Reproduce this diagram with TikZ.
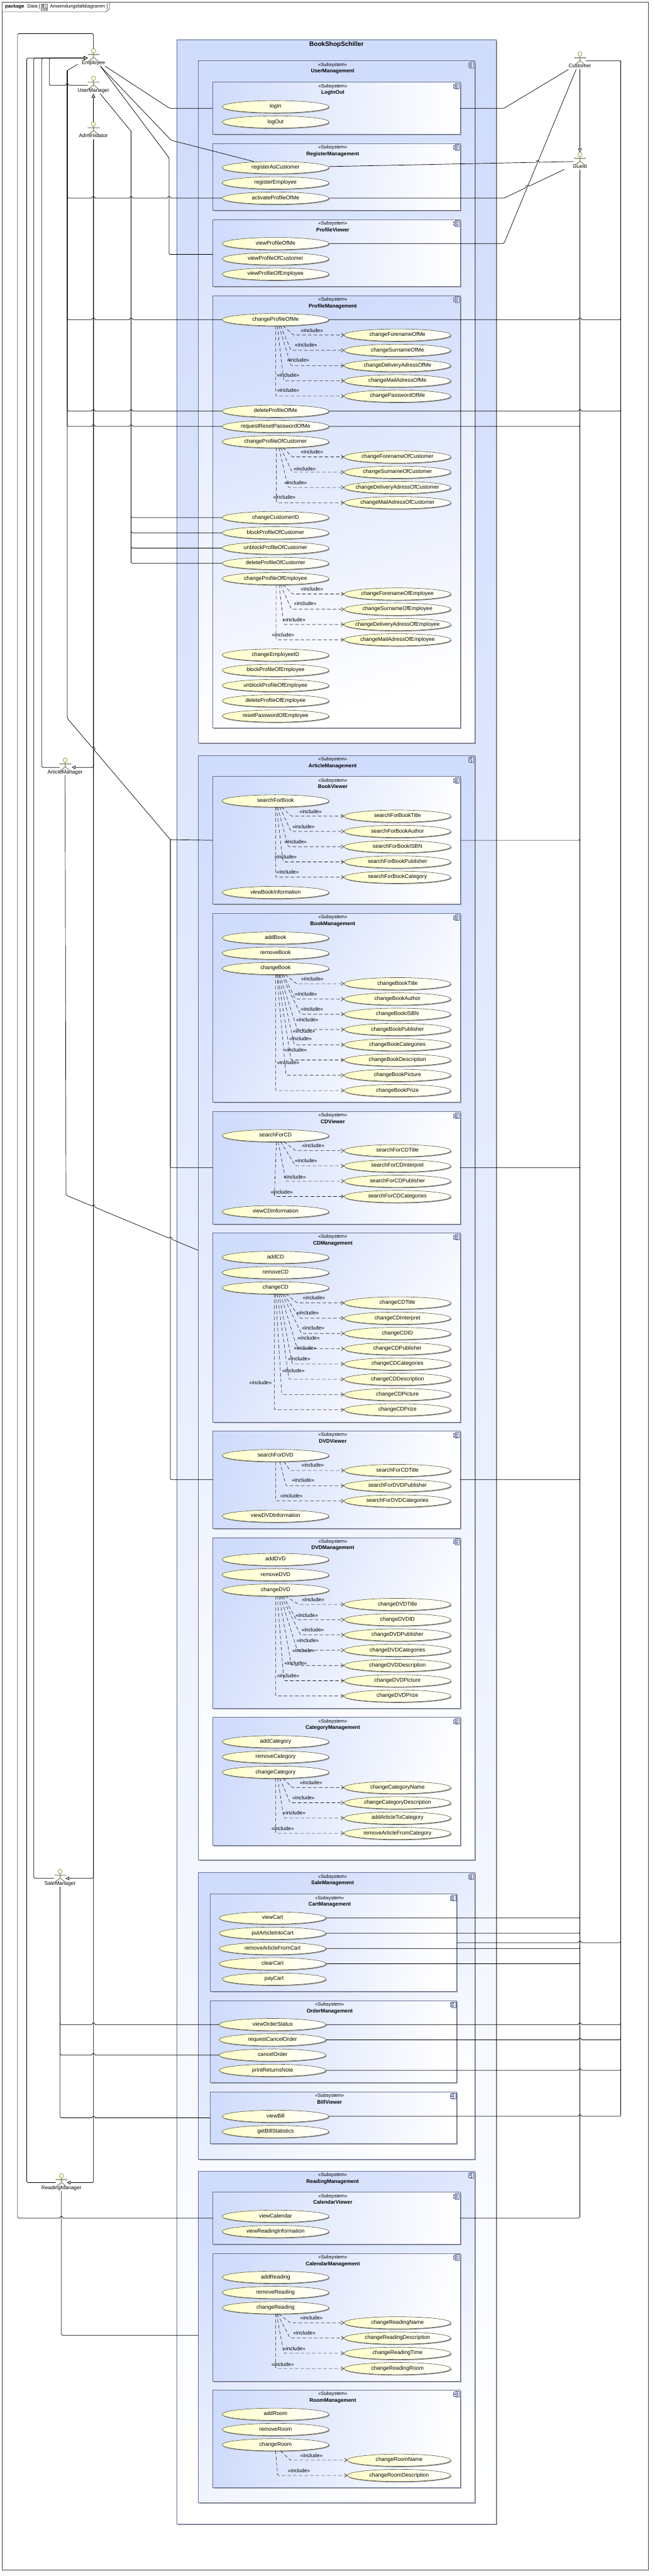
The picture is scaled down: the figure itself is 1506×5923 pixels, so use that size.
\documentclass[tikz,border=0pt]{standalone}
\usepackage{fontspec}
\setmainfont{Liberation Sans}
\usetikzlibrary{shapes.geometric, arrows.meta, positioning, shadows}
\definecolor{subblue}{RGB}{208,220,252}
\definecolor{subedge}{RGB}{104,114,150}
\definecolor{caseyellow}{RGB}{255,255,200}
\definecolor{caseedge}{RGB}{90,90,70}
\definecolor{actorline}{RGB}{135,135,105}
\definecolor{actorshade}{RGB}{205,205,195}
\newcommand{\casefont}{\fontsize{12.5}{15}\selectfont}
\newcommand{\stereofont}{\fontsize{11}{13}\selectfont}
\tikzset{
  %% ---- boxes ----
  subbox/.style  = {rectangle, anchor=north west, draw=subedge, line width=1pt,
                    top color=subblue, bottom color=white, outer sep=0pt,
                    drop shadow={shadow xshift=2.5pt, shadow yshift=-2.5pt,
                                 fill=black!40, opacity=1}},
  stereo/.style  = {inner sep=0pt, text height=9pt, text depth=3pt, font=\stereofont},
  subname/.style = {inner sep=0pt, text height=9pt, text depth=3pt,
                    font=\fontsize{12}{14}\selectfont\bfseries},
  usecase/.style = {ellipse, draw=caseedge, line width=0.9pt, outer sep=0pt,
                    left color=caseyellow, right color=white,
                    minimum width=246pt, minimum height=28pt,
                    inner xsep=-30pt, inner ysep=0pt, text height=9pt, text depth=3pt,
                    font=\casefont,
                    drop shadow={shadow xshift=1.5pt, shadow yshift=-2pt,
                                 fill=black!45, opacity=1}},
  actorlabel/.style = {inner xsep=0pt, inner ysep=1pt, text height=9pt, text depth=3pt,
                    font=\fontsize{12}{14}\selectfont},
  incllabel/.style = {inner sep=0pt, text height=9pt, text depth=3pt,
                    font=\fontsize{12}{14}\selectfont},
  tabtext/.style = {anchor=west, inner sep=0pt, text height=9pt, text depth=3pt,
                    font=\fontsize{11}{13}\selectfont},
  %% ---- arrows ----
  assoc/.style     = {line width=1pt, color=black, rounded corners=2.5pt},
  genarrow/.style  = {-{Triangle[length=8.5pt, width=8.5pt, fill=white]},
                      line width=1pt, color=black, rounded corners=2.5pt},
  inclarrow/.style = {-{Straight Barb[length=6pt, width=9pt]}, line width=0.9pt,
                      color=black!85, rounded corners=2.5pt,
                      dash pattern=on 8pt off 5pt},
  %% ---- icons ----
  pics/compicon/.style = {code={
    \draw[subedge, line width=1pt, fill=subblue!60] (-11.3,2.7) rectangle (-2,16);
    \draw[subedge, line width=1pt, fill=subblue!60] (-14.7,5) rectangle (-7.3,8);
    \draw[subedge, line width=1pt, fill=subblue!60] (-14.7,10.7) rectangle (-7.3,14);
  }},
  pics/actorfig/.style = {code={
    \draw[actorshade, line width=1.3pt]
      (1.5,-18.5) -- (15,-18.5) (-12,-18.5) -- (1.5,-18.5) (1.5,-21.8) -- (1.5,-11.8)
      (-10,-2.5) -- (1.5,-11.8) -- (13,-2.5);
    \draw[actorline, line width=1.3pt]
      (-13.5,-20) -- (13.5,-20) (0,-23.3) -- (0,-13.3)
      (-11.5,-4) -- (0,-13.3) -- (11.5,-4);
    \draw[actorline, line width=0.9pt, fill=caseyellow] (0,-28.3) circle[radius=5pt];
  }},
}
\newcommand{\subsystem}[6]{%
  \pgfmathsetmacro{\boxangle}{atan2((#4/#5)*(#4/#5),1)}%
  \node[subbox, minimum width=#4pt, minimum height=#5pt, shading angle=\boxangle] (#1) at (#2,#3) {};%
  \pic at (#1.north east) {compicon};%
  \node[stereo, below=3pt of #1.north, xshift=-8.5pt] (#1Stereo) {«Subsystem»};%
  \node[subname, below=3pt of #1Stereo] (#1Name) {#6};%
}
\newcommand{\actor}[4]{%
  \pic at (#2,#3) {actorfig};%
  \node[actorlabel] (#1) at (#2,#3) {#4};%
}
\newcommand{\inclusion}[6]{%
  \draw[inclarrow] ([xshift=#3pt]#1.south) -- (#4,0 |- #2.west) -- (#2.west);%
  \node[incllabel] (#2Incl) at (#5,#6) {«include»};%
}
\newcommand{\hop}[3][0]{%
  \begin{scope}[shift={(#2,#3)}, rotate=#1]
    \draw[white, line width=2.4pt] (-4pt,0pt) -- (4pt,0pt);
    \draw[line width=1pt] (-4pt,0pt) .. controls (-3pt,5pt) and (3pt,5pt) .. (4pt,0pt);
  \end{scope}%
}
\begin{document}
\begin{tikzpicture}[x=1pt, y=-1pt, node distance=7.1pt]

  \path[use as bounding box, fill=white] (0,0) rectangle (1506,5923);
  \draw[line width=1pt, color=black!75] (4.8,5) rectangle (1491.6,5909);
  \draw[line width=1pt, color=black!75, fill=white]
    (4.8,5) -- (251.7,5) -- (251.7,20.7) -- (242.7,27.3) -- (4.8,27.3) -- cycle;
  \node[tabtext] (tabKind) at (11.7,14.5) {\bfseries package};
  \node[tabtext] (tabName) at (63,14.5) {Data [};
  \draw[black!50, line width=0.8pt, fill=black!18] (94.5,9.5) rectangle (109.5,23.5);
  \draw[black!70, line width=0.7pt] (99,12) circle[radius=1.5pt] (96.5,15) -- (101.5,15)
    (99,13.5) -- (99,17) (97,19.5) -- (99,17) -- (101,19.5);
  \draw[black!70, line width=0.7pt] (105,20) ellipse[x radius=3pt, y radius=1.8pt];
  \node[tabtext] (tabDiagram) at (115,14.5) {Anwendungsfalldiagramm ]};

  \pgfmathsetmacro{\boxangle}{atan2((735.7/5712)*(735.7/5712),1)}
  \node[subbox, minimum width=735.7pt, minimum height=5712pt, shading angle=\boxangle]
    (bookShop) at (406.3,91) {};
  \node[inner sep=0pt, below=4pt of bookShop.north, text height=11pt, text depth=3pt,
        font=\fontsize{14.5}{17}\selectfont\bfseries] (bookShopName) {BookShopSchiller};

  \subsystem{userManagement}{455.3}{140}{636.7}{1568}{UserManagement}
  \subsystem{logInOut}{489.8}{189}{568.6}{120}{LogInOut}
  \subsystem{registerManagement}{489.8}{329.6}{568.6}{154.1}{RegisterManagement}
  \subsystem{profileViewer}{489.8}{504.6}{568.6}{154.1}{ProfileViewer}
  \subsystem{profileManagement}{489.8}{679.6}{568.6}{993.4}{ProfileManagement}
  \subsystem{articleManagement}{455.3}{1737}{636.7}{2540}{ArticleManagement}
  \subsystem{bookViewer}{489.8}{1785.4}{568.6}{293.3}{BookViewer}
  \subsystem{bookManagement}{489.8}{2100.4}{568.6}{433.6}{BookManagement}
  \subsystem{cdViewer}{489.8}{2555.8}{568.6}{258.2}{CDViewer}
  \subsystem{cdManagement}{489.8}{2835}{568.6}{434.4}{CDManagement}
  \subsystem{dvdViewer}{489.8}{3290.5}{568.6}{223.5}{DVDViewer}
  \subsystem{dvdManagement}{489.8}{3535.4}{568.6}{392.2}{DVDManagement}
  \subsystem{categoryManagement}{489.8}{3948.6}{568.6}{294}{CategoryManagement}
  \subsystem{saleManagement}{455.3}{4305.8}{636.7}{658.2}{SaleManagement}
  \subsystem{cartManagement}{483}{4355}{567.7}{223.7}{CartManagement}
  \subsystem{orderManagement}{483}{4599.8}{567.7}{188.8}{OrderManagement}
  \subsystem{billViewer}{483}{4810}{567.7}{119}{BillViewer}
  \subsystem{readingManagement}{455.3}{4992}{636.7}{762.7}{ReadingManagement}
  \subsystem{calendarViewer}{489.8}{5040.6}{568.6}{118.9}{CalendarViewer}
  \subsystem{calendarManagement}{489.8}{5181}{568.6}{293.6}{CalendarManagement}
  \subsystem{roomManagement}{489.8}{5495.4}{568.6}{224.2}{RoomManagement}

  \node[usecase] (logIn) at (633.9,245.4) {logIn};
  \node[usecase, below=of logIn] (logOut) {logOut};

  \node[usecase] (registerAsCustomer) at (633.9,385.4) {registerAsCustomer};
  \node[usecase, below=of registerAsCustomer] (registerEmployee) {registerEmployee};
  \node[usecase, below=of registerEmployee] (activateProfileOfMe) {activateProfileOfMe};

  \node[usecase] (viewProfileOfMe) at (633.9,560) {viewProfileOfMe};
  \node[usecase, below=of viewProfileOfMe] (viewProfileOfCustomer) {viewProfileOfCustomer};
  \node[usecase, below=of viewProfileOfCustomer] (viewProfileOfEmployee) {viewProfileOfEmployee};

  \node[usecase] (changeProfileOfMe) at (633.9,735) {changeProfileOfMe};
  \node[usecase] (changeForenameOfMe) at (914.4,770.4) {changeForenameOfMe};
  \node[usecase, below=of changeForenameOfMe] (changeSurnameOfMe) {changeSurnameOfMe};
  \node[usecase, below=of changeSurnameOfMe] (changeDeliveryAdressOfMe) {changeDeliveryAdressOfMe};
  \node[usecase, below=of changeDeliveryAdressOfMe] (changeMailAdressOfMe) {changeMailAdressOfMe};
  \node[usecase, below=of changeMailAdressOfMe] (changePasswordOfMe) {changePasswordOfMe};
  \node[usecase] (deleteProfileOfMe) at (633.9,945.4) {deleteProfileOfMe};
  \node[usecase, below=of deleteProfileOfMe] (requestResetPasswordOfMe) {requestResetPasswordOfMe};
  \node[usecase, below=of requestResetPasswordOfMe] (changeProfileOfCustomer) {changeProfileOfCustomer};
  \node[usecase] (changeForenameOfCustomer) at (914.4,1050.6) {changeForenameOfCustomer};
  \node[usecase, below=of changeForenameOfCustomer] (changeSurnameOfCustomer) {changeSurnameOfCustomer};
  \node[usecase, below=of changeSurnameOfCustomer] (changeDeliveryAdressOfCustomer) {changeDeliveryAdressOfCustomer};
  \node[usecase, below=of changeDeliveryAdressOfCustomer] (changeMailAdressOfCustomer) {changeMailAdressOfCustomer};
  \node[usecase] (changeCustomerID) at (633.9,1190) {changeCustomerID};
  \node[usecase, below=of changeCustomerID] (blockProfileOfCustomer) {blockProfileOfCustomer};
  \node[usecase, below=of blockProfileOfCustomer] (unblockProfileOfCustomer) {unblockProfileOfCustomer};
  \node[usecase, below=of unblockProfileOfCustomer] (deleteProfileOfCustomer) {deleteProfileOfCustomer};
  \node[usecase, below=of deleteProfileOfCustomer] (changeProfileOfEmployee) {changeProfileOfEmployee};
  \node[usecase] (changeForenameOfEmployee) at (914.4,1365.7) {changeForenameOfEmployee};
  \node[usecase, below=of changeForenameOfEmployee] (changeSurnameOfEmployee) {changeSurnameOfEmployee};
  \node[usecase, below=of changeSurnameOfEmployee] (changeDeliveryAdressOfEmployee) {changeDeliveryAdressOfEmployee};
  \node[usecase, below=of changeDeliveryAdressOfEmployee] (changeMailAdressOfEmployee) {changeMailAdressOfEmployee};
  \node[usecase] (changeEmployeeID) at (633.9,1506) {changeEmployeeID};
  \node[usecase, below=of changeEmployeeID] (blockProfileOfEmployee) {blockProfileOfEmployee};
  \node[usecase, below=of blockProfileOfEmployee] (unblockProfileOfEmployee) {unblockProfileOfEmployee};
  \node[usecase, below=of unblockProfileOfEmployee] (deleteProfileOfEmployee) {deleteProfileOfEmployee};
  \node[usecase, below=of deleteProfileOfEmployee] (resetPasswordOfEmployee) {resetPasswordOfEmployee};

  \node[usecase] (searchForBook) at (633.9,1841.5) {searchForBook};
  \node[usecase] (searchForBookTitle) at (914.4,1876.5) {searchForBookTitle};
  \node[usecase, below=of searchForBookTitle] (searchForBookAuthor) {searchForBookAuthor};
  \node[usecase, below=of searchForBookAuthor] (searchForBookISBN) {searchForBookISBN};
  \node[usecase, below=of searchForBookISBN] (searchForBookPublisher) {searchForBookPublisher};
  \node[usecase, below=of searchForBookPublisher] (searchForBookCategory) {searchForBookCategory};
  \node[usecase] (viewBookInformation) at (633.9,2052) {viewBookInformation};

  \node[usecase] (addBook) at (633.9,2156.5) {addBook};
  \node[usecase, below=of addBook] (removeBook) {removeBook};
  \node[usecase, below=of removeBook] (changeBook) {changeBook};
  \node[usecase] (changeBookTitle) at (914.4,2261.8) {changeBookTitle};
  \node[usecase, below=of changeBookTitle] (changeBookAuthor) {changeBookAuthor};
  \node[usecase, below=of changeBookAuthor] (changeBookISBN) {changeBookISBN};
  \node[usecase, below=of changeBookISBN] (changeBookPublisher) {changeBookPublisher};
  \node[usecase, below=of changeBookPublisher] (changeBookCategories) {changeBookCategories};
  \node[usecase, below=of changeBookCategories] (changeBookDescription) {changeBookDescription};
  \node[usecase, below=of changeBookDescription] (changeBookPicture) {changeBookPicture};
  \node[usecase, below=of changeBookPicture] (changeBookPrize) {changeBookPrize};

  \node[usecase] (searchForCD) at (633.9,2611.3) {searchForCD};
  \node[usecase] (searchForCDTitle) at (914.4,2645.7) {searchForCDTitle};
  \node[usecase, below=of searchForCDTitle] (searchForCDInterpret) {searchForCDInterpret};
  \node[usecase, below=of searchForCDInterpret] (searchForCDPublisher) {searchForCDPublisher};
  \node[usecase, below=of searchForCDPublisher] (searchForCDCategories) {searchForCDCategories};
  \node[usecase] (viewCDInformation) at (633.9,2786) {viewCDInformation};

  \node[usecase] (addCD) at (633.9,2891) {addCD};
  \node[usecase, below=of addCD] (removeCD) {removeCD};
  \node[usecase, below=of removeCD] (changeCD) {changeCD};
  \node[usecase] (changeCDTitle) at (914.4,2995.8) {changeCDTitle};
  \node[usecase, below=of changeCDTitle] (changeCDInterpret) {changeCDInterpret};
  \node[usecase, below=of changeCDInterpret] (changeCDID) {changeCDID};
  \node[usecase, below=of changeCDID] (changeCDPublisher) {changeCDPublisher};
  \node[usecase, below=of changeCDPublisher] (changeCDCategories) {changeCDCategories};
  \node[usecase, below=of changeCDCategories] (changeCDDescription) {changeCDDescription};
  \node[usecase, below=of changeCDDescription] (changeCDPicture) {changeCDPicture};
  \node[usecase, below=of changeCDPicture] (changeCDPrize) {changeCDPrize};

  \node[usecase] (searchForDVD) at (633.9,3346.6) {searchForDVD};
  \node[usecase] (dvdSearchTitle) at (914.4,3381) {searchForCDTitle};
  \node[usecase, below=of dvdSearchTitle] (searchForDVDPublisher) {searchForDVDPublisher};
  \node[usecase, below=of searchForDVDPublisher] (searchForDVDCategories) {searchForDVDCategories};
  \node[usecase] (viewDVDInformation) at (633.9,3486) {viewDVDInformation};

  \node[usecase] (addDVD) at (633.9,3585.7) {addDVD};
  \node[usecase, below=of addDVD] (removeDVD) {removeDVD};
  \node[usecase, below=of removeDVD] (changeDVD) {changeDVD};
  \node[usecase] (changeDVDTitle) at (914.4,3689) {changeDVDTitle};
  \node[usecase, below=of changeDVDTitle] (changeDVDID) {changeDVDID};
  \node[usecase, below=of changeDVDID] (changeDVDPublisher) {changeDVDPublisher};
  \node[usecase, below=of changeDVDPublisher] (changeDVDCategories) {changeDVDCategories};
  \node[usecase, below=of changeDVDCategories] (changeDVDDescription) {changeDVDDescription};
  \node[usecase, below=of changeDVDDescription] (changeDVDPicture) {changeDVDPicture};
  \node[usecase, below=of changeDVDPicture] (changeDVDPrize) {changeDVDPrize};

  \node[usecase] (addCategory) at (633.9,4004.7) {addCategory};
  \node[usecase, below=of addCategory] (removeCategory) {removeCategory};
  \node[usecase, below=of removeCategory] (changeCategory) {changeCategory};
  \node[usecase] (changeCategoryName) at (914.4,4110) {changeCategoryName};
  \node[usecase, below=of changeCategoryName] (changeCategoryDescription) {changeCategoryDescription};
  \node[usecase, below=of changeCategoryDescription] (addArticleToCategory) {addArticleToCategory};
  \node[usecase, below=of addArticleToCategory] (removeArticleFromCategory) {removeArticleFromCategory};

  \node[usecase] (viewCart) at (627.1,4410) {viewCart};
  \node[usecase, below=of viewCart] (putArticleIntoCart) {putArticleIntoCart};
  \node[usecase, below=of putArticleIntoCart] (removeArticleFromCart) {removeArticleFromCart};
  \node[usecase, below=of removeArticleFromCart] (clearCart) {clearCart};
  \node[usecase, below=of clearCart, xshift=3.5pt, minimum width=239pt] (payCart) {payCart};

  \node[usecase] (viewOrderStatus) at (627.1,4655) {viewOrderStatus};
  \node[usecase, below=of viewOrderStatus] (requestCancelOrder) {requestCancelOrder};
  \node[usecase, below=of requestCancelOrder] (cancelOrder) {cancelOrder};
  \node[usecase, below=of cancelOrder] (printReturnsNote) {printReturnsNote};

  \node[usecase] (viewBill) at (633.9,4866) {viewBill};
  \node[usecase, below=of viewBill] (getBillStatistics) {getBillStatistics};

  \node[usecase] (viewCalendar) at (633.9,5095.8) {viewCalendar};
  \node[usecase, below=of viewCalendar] (viewReadingInformation) {viewReadingInformation};

  \node[usecase] (addReading) at (633.9,5236) {addReading};
  \node[usecase, below=of addReading] (removeReading) {removeReading};
  \node[usecase, below=of removeReading] (changeReading) {changeReading};
  \node[usecase] (changeReadingName) at (914.4,5340.7) {changeReadingName};
  \node[usecase, below=of changeReadingName] (changeReadingDescription) {changeReadingDescription};
  \node[usecase, below=of changeReadingDescription] (changeReadingTime) {changeReadingTime};
  \node[usecase, below=of changeReadingTime] (changeReadingRoom) {changeReadingRoom};

  \node[usecase] (addRoom) at (633.9,5551) {addRoom};
  \node[usecase, below=of addRoom] (removeRoom) {removeRoom};
  \node[usecase, below=of removeRoom] (changeRoom) {changeRoom};
  \node[usecase, minimum width=238pt] (changeRoomName) at (918.2,5656.6) {changeRoomName};
  \node[usecase, minimum width=238pt, below=of changeRoomName] (changeRoomDescription) {changeRoomDescription};

  \inclusion{changeProfileOfMe}{changeForenameOfMe}{17.3}{675.2}{717.5}{761}
  \inclusion{changeProfileOfMe}{changeSurnameOfMe}{11.5}{669.4}{704}{794}
  \inclusion{changeProfileOfMe}{changeDeliveryAdressOfMe}{7.7}{669.4}{685.8}{829}
  \inclusion{changeProfileOfMe}{changeMailAdressOfMe}{3.8}{653}{662.7}{864}
  \inclusion{changeProfileOfMe}{changePasswordOfMe}{0}{633.9}{662.7}{899}

  \inclusion{changeProfileOfCustomer}{changeForenameOfCustomer}{17.3}{672.3}{717.5}{1041}
  \inclusion{changeProfileOfCustomer}{changeSurnameOfCustomer}{11.5}{672.3}{701}{1079.4}
  \inclusion{changeProfileOfCustomer}{changeDeliveryAdressOfCustomer}{7.7}{662.7}{680}{1111}
  \inclusion{changeProfileOfCustomer}{changeMailAdressOfCustomer}{2}{635.8}{654}{1144.4}

  \inclusion{changeProfileOfEmployee}{changeForenameOfEmployee}{17.3}{672.3}{717.5}{1356}
  \inclusion{changeProfileOfEmployee}{changeSurnameOfEmployee}{11.5}{670.4}{702}{1389}
  \inclusion{changeProfileOfEmployee}{changeDeliveryAdressOfEmployee}{7.7}{653}{677}{1426}
  \inclusion{changeProfileOfEmployee}{changeMailAdressOfEmployee}{1}{634.9}{651.2}{1461}

  \inclusion{searchForBook}{searchForBookTitle}{14.4}{669.4}{714.6}{1867}
  \inclusion{searchForBook}{searchForBookAuthor}{9.6}{669.4}{698.2}{1902}
  \inclusion{searchForBook}{searchForBookISBN}{4.8}{662.7}{680}{1937}
  \inclusion{searchForBook}{searchForBookPublisher}{1.9}{651.2}{657}{1972}
  \inclusion{searchForBook}{searchForBookCategory}{0}{633.9}{661.8}{2006}

  \inclusion{changeBook}{changeBookTitle}{22}{682}{718.4}{2252}
  \inclusion{changeBook}{changeBookAuthor}{17.3}{680}{704}{2287}
  \inclusion{changeBook}{changeBookISBN}{13.4}{691.5}{717.5}{2322}
  \inclusion{changeBook}{changeBookPublisher}{9.6}{683.9}{706.9}{2346}
  \inclusion{changeBook}{changeBookCategories}{7.7}{677}{699.2}{2371.5}
  \inclusion{changeBook}{changeBookDescription}{4.8}{669.4}{691.5}{2390}
  \inclusion{changeBook}{changeBookPicture}{2.9}{657.9}{680}{2416}
  \inclusion{changeBook}{changeBookPrize}{0}{633.9}{662.7}{2444}

  \inclusion{searchForCD}{searchForCDTitle}{19.2}{680}{720.3}{2635.5}
  \inclusion{searchForCD}{searchForCDInterpret}{11.5}{680}{704}{2670.6}
  \inclusion{searchForCD}{searchForCDPublisher}{5.8}{657.9}{678}{2707}
  \inclusion{searchForCD}{searchForCDCategories}{1.9}{631}{648.3}{2742}

  \inclusion{changeCD}{changeCDTitle}{24}{683.9}{722.3}{2985}
  \inclusion{changeCD}{changeCDInterpret}{19.2}{689.6}{707.9}{3020}
  \inclusion{changeCD}{changeCDID}{15.4}{693.4}{720.3}{3055}
  \inclusion{changeCD}{changeCDPublisher}{11.5}{683.9}{709.8}{3077.4}
  \inclusion{changeCD}{changeCDCategories}{7.7}{672.3}{702}{3101}
  \inclusion{changeCD}{changeCDDescription}{3.8}{664.6}{688.6}{3126}
  \inclusion{changeCD}{changeCDPicture}{0}{648.3}{675.2}{3153}
  \inclusion{changeCD}{changeCDPrize}{-2.9}{631}{599.3}{3181}

  \inclusion{searchForDVD}{dvdSearchTitle}{19.2}{667.5}{719.4}{3370}
  \inclusion{searchForDVD}{searchForDVDPublisher}{9.6}{657.9}{697.3}{3405}
  \inclusion{searchForDVD}{searchForDVDCategories}{0}{633.9}{670.4}{3440}

  \inclusion{changeDVD}{changeDVDTitle}{22}{687.7}{720.3}{3680}
  \inclusion{changeDVD}{changeDVDID}{17.3}{682}{705.9}{3715}
  \inclusion{changeDVD}{changeDVDPublisher}{13.4}{691.5}{719.4}{3749}
  \inclusion{changeDVD}{changeDVDCategories}{10.6}{683.9}{707.9}{3773}
  \inclusion{changeDVD}{changeDVDDescription}{7.7}{670.4}{698.2}{3797}
  \inclusion{changeDVD}{changeDVDPicture}{3.8}{653}{680}{3825.5}
  \inclusion{changeDVD}{changeDVDPrize}{0}{633.9}{662.7}{3854}

  \inclusion{changeCategory}{changeCategoryName}{17.3}{672.3}{715.5}{4100.4}
  \inclusion{changeCategory}{changeCategoryDescription}{9.6}{667.5}{698.2}{4135.5}
  \inclusion{changeCategory}{addArticleToCategory}{4.8}{653}{677}{4170}
  \inclusion{changeCategory}{removeArticleFromCategory}{0}{633.9}{650.2}{4205}

  \inclusion{changeReading}{changeReadingName}{7.7}{667.5}{716.5}{5330}
  \inclusion{changeReading}{changeReadingDescription}{3.8}{667.5}{700.2}{5365}
  \inclusion{changeReading}{changeReadingTime}{1.9}{653}{677}{5402}
  \inclusion{changeReading}{changeReadingRoom}{0}{633.9}{650.2}{5437.4}

  \inclusion{changeRoom}{changeRoomName}{11.5}{667.5}{716.5}{5647}
  \inclusion{changeRoom}{changeRoomDescription}{0}{638.7}{687.7}{5682}

  \actor{employee}{215}{145}{Employee}
  \actor{userManager}{215}{208.3}{UserManager}
  \actor{administator}{215}{313.3}{Administator}
  \actor{customer}{1334}{152.5}{Customer}
  \actor{guest}{1334}{383.7}{Guest}
  \actor{articleManager}{149.8}{1776}{ArticleManager}
  \actor{saleManager}{138.3}{4331}{SaleManager}
  \actor{readingManager}{141.2}{5031}{ReadingManager}

  \coordinate (employeeTip) at (201.7,133.5);
  \coordinate (employeeHead) at (215,111);
  \coordinate (employeeBack) at (178.6,148);
  \coordinate (employeeBus) at (154.6,162);
  \coordinate (topLoop) at (40.3,77.5);
  \coordinate (topRight) at (215,77.5);
  \coordinate (userBus) at (301.6,302);
  \coordinate (articleBus) at (391.9,1930.7);
  \coordinate (customerBus) at (1428,140);
  \coordinate (customerArm) at (1347.5,140);
  \coordinate (articleTip) at (165.2,1764.4);
  \coordinate (saleTip) at (150.8,4319);
  \coordinate (readingTip) at (153.7,5018.4);
  \coordinate (adminHead) at (215,280);
  \coordinate (guestHead) at (1334,350.4);

  \draw[genarrow] (202,196.4) -- (113.3,196.4) -- (113.3,133.5) -- (employeeTip);
  \draw[genarrow] (136.8,1764.4) -- (96,1764.4) -- (96,133.5) -- (employeeTip);
  \draw[genarrow] (125,4319) -- (77.8,4319) -- (77.8,133.5) -- (employeeTip);
  \draw[genarrow] (128,5018.4) -- (61.5,5018.4) -- (61.5,133.5) -- (employeeTip);
  \hop{154.6}{196.4}

  \draw[assoc] (employee.south east) -- (390,249) -- (logInOut.west);
  \draw[assoc] ([xshift=-11pt]employee.south east) -- (393.8,322.5) -- ([xshift=-50pt]registerAsCustomer.north);
  \draw[assoc] (employeeBack) -- (employeeBus) -- (154.6,1651.4) -- (articleBus) -- (bookViewer.west);
  \draw[assoc] (activateProfileOfMe.west) -| (employeeBus);
  \draw[assoc] (changeProfileOfMe.west) -| (employeeBus);
  \draw[assoc] (deleteProfileOfMe.west) -| (employeeBus);
  \draw[assoc] (requestResetPasswordOfMe.west) -| (employeeBus);

  \draw[assoc] (articleManager.south) -- (151.8,2748) -- ([yshift=132.4pt]articleManagement.west);
  \draw[assoc] (calendarViewer.west) -| (topLoop) -- (topRight) -- (employeeHead);
  \draw[assoc] (viewOrderStatus.west) -| (saleManager.south);
  \draw[assoc] (cancelOrder.west) -| (saleManager.south);
  \draw[assoc] (billViewer.west) -| (saleManager.south);

  \draw[assoc] (customer.south west) -- (1159.3,249) -- (logInOut.east);
  \draw[assoc] (customerArm) -- (customerBus) |- (changeProfileOfMe.east);
  \draw[assoc] (deleteProfileOfMe.east) -| (customerBus);
  \draw[assoc] (cartManagement.east) -| (customerBus);
  \draw[assoc] (viewOrderStatus.east) -| (customerBus);
  \draw[assoc] (requestCancelOrder.east) -| (customerBus);
  \draw[assoc] (printReturnsNote.east) -| (customerBus);
  \draw[assoc] (viewBill.east) -| (customerBus);
  \draw[assoc] ([yshift=2.4pt]registerAsCustomer.east) -- (1320.6,371.4);
  \draw[assoc] (1298.5,389.3) -- (1159.3,455.6) -- (activateProfileOfMe.east);

  \hop{215}{455.6} \hop{215}{735} \hop{215}{945.4} \hop{215}{980.5}
  \hop{301.6}{455.6} \hop{301.6}{735} \hop{301.6}{945.4} \hop{301.6}{980.5}
  \hop{389}{455.6}
  \hop[-49.8]{215}{1721.6} \hop[-22.6]{215}{2774.4} \hop[-22.6]{391.9}{2848.1}
  \hop{215}{4655} \hop{215}{4725.2} \hop{215}{4869.5}
  \hop{141.2}{5100}
  \hop{1334}{735} \hop{1334}{945.4} \hop{1334}{4466.9} \hop{1334}{4655}
  \hop{1334}{4690.1} \hop{1334}{4760.3} \hop{1334}{4866}
  \hop[1.1]{1236.9}{373} \hop[25.4]{1213.3}{429.9}

  \draw[assoc] ([xshift=-11pt]employee.south east) -- (389,363) -- (389,585) -- ([yshift=-3.4pt]profileViewer.west);
  \draw[assoc] ([xshift=15.5pt]userManager.south) -- (userBus);
  \draw[assoc] (changeCustomerID.west) -| (userBus);
  \draw[assoc] (blockProfileOfCustomer.west) -| (userBus);
  \draw[assoc] (unblockProfileOfCustomer.west) -| (userBus);
  \draw[assoc] (deleteProfileOfCustomer.west) -| (userBus);
  \draw[assoc] (cdViewer.west) -| (articleBus);
  \draw[assoc] (dvdViewer.west) -| (articleBus);
  \draw[assoc] ([yshift=4pt]readingManagement.west) -| (readingManager.south);

  \draw[genarrow] (adminHead) -- (userManager.south);
  \draw[genarrow] (administator.south) |- (articleTip);
  \draw[genarrow] (administator.south) |- (saleTip);
  \draw[genarrow] (administator.south) |- (readingTip);

  \draw[genarrow] (customer.south) -- (guestHead);
  \draw[assoc] (requestResetPasswordOfMe.east) -| (guest.south);
  \draw[assoc] (bookViewer.east) -| (guest.south);
  \draw[assoc] (cdViewer.east) -| (guest.south);
  \draw[assoc] (dvdViewer.east) -| (guest.south);
  \draw[assoc] (viewCart.east) -| (guest.south);
  \draw[assoc] (putArticleIntoCart.east) -| (guest.south);
  \draw[assoc] (removeArticleFromCart.east) -| (guest.south);
  \draw[assoc] (clearCart.east) -| (guest.south);
  \draw[assoc] (calendarViewer.east) -| (guest.south);
  \draw[assoc] ([xshift=-8.6pt]customer.south) -- (1159.3,560) -- (viewProfileOfMe.east);

\end{tikzpicture}
\end{document}
